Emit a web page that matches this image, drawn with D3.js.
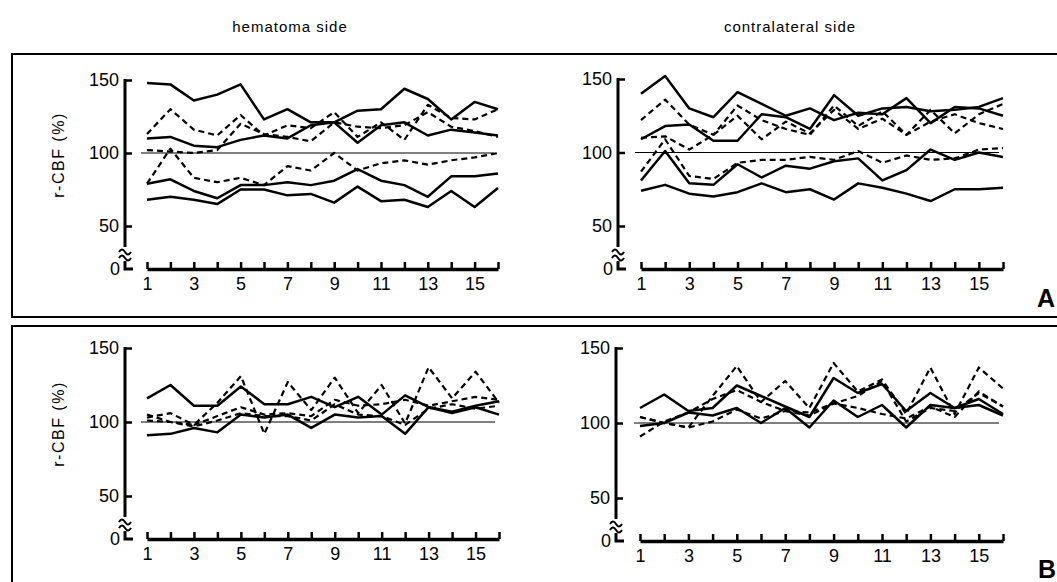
<!DOCTYPE html>
<html>
<head>
<meta charset="utf-8">
<script src="https://cdn.jsdelivr.net/npm/d3@7"></script>
<style>
	html, body { margin: 0; padding: 0; background: #fff; }
	svg { display: block; }
</style>
</head>
<body>
<div class="chart"></div>
<script>
// Measurement number (x) and the y ticks shown on every panel.
var sessions = d3.range(1, 17);
var xLabelValues = [1, 3, 5, 7, 9, 11, 13, 15];
var yTickValues = [50, 100, 150];

// A, hematoma side (r-CBF %)
var aHemSolid1 = [148, 147, 136, 140, 147, 123, 130, 121, 121, 129, 130, 144, 137, 123, 135, 130];
var aHemSolid2 = [110, 111, 105, 104, 109, 112, 110, 119, 121, 107, 119, 121, 112, 116, 114, 112];
var aHemSolid3 = [79, 82, 74, 69, 78, 78, 80, 78, 81, 89, 81, 78, 70, 84, 84, 86];
var aHemSolid4 = [68, 70, 68, 65, 75, 75, 71, 72, 66, 77, 67, 68, 63, 74, 63, 76];
var aHemDash1 = [113, 130, 116, 112, 126, 112, 119, 117, 128, 111, 121, 109, 133, 124, 123, 130];
var aHemDash2 = [102, 101, 100, 102, 120, 113, 111, 108, 121, 118, 117, 119, 128, 118, 115, 111];
var aHemDash3 = [79, 103, 83, 80, 83, 78, 91, 88, 100, 88, 93, 95, 92, 95, 97, 100];

// A, contralateral side
var aConSolid1 = [140, 152, 130, 124, 141, 133, 125, 130, 122, 127, 126, 137, 120, 131, 130, 125];
var aConSolid2 = [109, 118, 119, 108, 108, 126, 124, 116, 139, 125, 130, 131, 128, 129, 131, 137];
var aConSolid3 = [81, 101, 79, 78, 92, 83, 91, 89, 94, 96, 81, 88, 102, 95, 100, 97];
var aConSolid4 = [74, 78, 72, 70, 73, 79, 73, 75, 68, 79, 76, 72, 67, 75, 75, 76];
var aConDash1 = [122, 136, 119, 112, 132, 122, 116, 112, 132, 118, 128, 112, 129, 113, 126, 133];
var aConDash2 = [110, 111, 102, 112, 125, 109, 121, 113, 129, 116, 123, 112, 121, 126, 120, 116];
var aConDash3 = [87, 109, 84, 82, 93, 95, 95, 97, 95, 101, 93, 98, 95, 96, 102, 103];

// B, hematoma side
var bHemSolid1 = [116, 125, 111, 111, 124, 112, 112, 117, 110, 117, 105, 118, 110, 106, 110, 105];
var bHemSolid2 = [91, 92, 96, 93, 105, 103, 105, 96, 105, 103, 104, 92, 110, 107, 111, 114];
var bHemDash1 = [105, 100, 98, 113, 131, 92, 127, 108, 130, 106, 125, 99, 137, 116, 134, 113];
var bHemDash2 = [103, 106, 98, 104, 110, 105, 106, 104, 115, 111, 112, 115, 111, 114, 117, 115];
var bHemDash3 = [101, 100, 97, 101, 106, 104, 104, 101, 112, 105, 104, 98, 109, 112, 109, 111];

// B, contralateral side
var bConSolid1 = [110, 119, 108, 110, 125, 118, 111, 104, 130, 120, 126, 108, 120, 110, 116, 106];
var bConSolid2 = [98, 100, 107, 105, 110, 100, 110, 97, 115, 104, 112, 97, 112, 110, 112, 105];
var bConDash1 = [104, 100, 97, 118, 138, 114, 128, 110, 140, 121, 129, 106, 137, 106, 137, 123];
var bConDash2 = [91, 101, 107, 116, 122, 114, 108, 105, 113, 118, 128, 101, 110, 108, 120, 111];
var bConDash3 = [104, 100, 97, 101, 109, 103, 108, 107, 113, 110, 106, 103, 111, 104, 121, 111];

// Where each of the four little charts sits on the page.
var panels = [
	{axisX: 125, x1: 147, x16: 498, y150: 80, y50: 226, base: 269, yLabel: true,
		solid: [aHemSolid1, aHemSolid2, aHemSolid3, aHemSolid4], dashed: [aHemDash1, aHemDash2, aHemDash3]},
	{axisX: 618, x1: 641, x16: 1003, y150: 79, y50: 226, base: 269, yLabel: false,
		solid: [aConSolid1, aConSolid2, aConSolid3, aConSolid4], dashed: [aConDash1, aConDash2, aConDash3]},
	{axisX: 125, x1: 147, x16: 499, y150: 348, y50: 496, base: 539, yLabel: true,
		solid: [bHemSolid1, bHemSolid2], dashed: [bHemDash1, bHemDash2, bHemDash3]},
	{axisX: 616, x1: 640, x16: 1003, y150: 348, y50: 498, base: 541, yLabel: false,
		solid: [bConSolid1, bConSolid2], dashed: [bConDash1, bConDash2, bConDash3]}
];

var width = 1057,
	height = 582,
	fontFamily = '"Liberation Sans", Arial, Helvetica, sans-serif';

var svg = d3.select('.chart').append('svg')
	.attr('width', width)
	.attr('height', height)
	.attr('font-family', fontFamily)
	.attr('fill', '#000');

// Column titles.
svg.append('text').attr('x', 290).attr('y', 32).attr('text-anchor', 'middle')
	.attr('font-size', '15px').attr('letter-spacing', '1px').text('hematoma side');
svg.append('text').attr('x', 790).attr('y', 32).attr('text-anchor', 'middle')
	.attr('font-size', '15px').attr('letter-spacing', '1px').text('contralateral side');

// The two frames, open on the right like in the scan.
svg.append('path')
	.attr('d', 'M' + (width + 5) + ',54H12V317H' + (width + 5))
	.attr('fill', 'none').attr('stroke', '#000').attr('stroke-width', 2);
svg.append('path')
	.attr('d', 'M' + (width + 5) + ',326H12V' + (height + 5))
	.attr('fill', 'none').attr('stroke', '#000').attr('stroke-width', 2);

svg.append('text').attr('x', 1037).attr('y', 307).attr('font-size', '25px')
	.attr('font-weight', 'bold').text('A');
svg.append('text').attr('x', 1038).attr('y', 578).attr('font-size', '25px')
	.attr('font-weight', 'bold').text('B');

panels.forEach(function(p) {
	var x = d3.scaleLinear().domain([1, 16]).range([p.x1, p.x16]);
	var y = d3.scaleLinear().domain([50, 150]).range([p.y50, p.y150]);
	var g = svg.append('g');

	// thin reference line at 100 %
	g.append('line')
		.attr('x1', x(1) - 6)
		.attr('x2', x(16) - 4)
		.attr('y1', y(100))
		.attr('y2', y(100))
		.attr('stroke', '#000')
		.attr('stroke-width', 1);

	var line = d3.line()
		.x(function(d, i) { return x(sessions[i]); })
		.y(function(d) { return y(d); });

	p.dashed.forEach(function(values) {
		g.append('path')
			.datum(values)
			.attr('d', line)
			.attr('fill', 'none')
			.attr('stroke', '#000')
			.attr('stroke-width', 2.2)
			.attr('stroke-dasharray', '6,4')
			.attr('stroke-linejoin', 'round');
	});
	p.solid.forEach(function(values) {
		g.append('path')
			.datum(values)
			.attr('d', line)
			.attr('fill', 'none')
			.attr('stroke', '#000')
			.attr('stroke-width', 2.5)
			.attr('stroke-linejoin', 'round');
	});

	// y axis: ticks to the right, labels to the left, domain drawn by hand because of the break
	var yAxis = g.append('g')
		.attr('transform', 'translate(' + p.axisX + ',0)')
		.call(d3.axisLeft(y).tickValues(yTickValues).tickSize(-7).tickPadding(6));
	yAxis.select('.domain').remove();
	yAxis.selectAll('line').attr('stroke-width', 2.5);
	yAxis.selectAll('text').attr('font-size', '18px').attr('font-family', fontFamily);

	var breakTop = p.base - 22;
	g.append('line')
		.attr('x1', p.axisX).attr('x2', p.axisX)
		.attr('y1', y(150) - 1).attr('y2', breakTop)
		.attr('stroke', '#000').attr('stroke-width', 3);
	// the two wavy break marks
	[breakTop + 4, breakTop + 10].forEach(function(yy) {
		g.append('path')
			.attr('d', 'M' + (p.axisX - 6) + ',' + (yy + 1) + 'q3,-5 6,0t6,0')
			.attr('fill', 'none').attr('stroke', '#000').attr('stroke-width', 2);
	});
	g.append('path')
		.attr('d', 'M' + p.axisX + ',' + (p.base - 8) + 'V' + p.base + 'H' + (p.axisX + 8))
		.attr('fill', 'none').attr('stroke', '#000').attr('stroke-width', 3);
	g.append('text')
		.attr('x', p.axisX - 5).attr('y', p.base + 6)
		.attr('text-anchor', 'end').attr('font-size', '18px')
		.text('0');

	// x axis with up ticks, labels on odd measurements
	var xAxis = g.append('g')
		.attr('transform', 'translate(0,' + p.base + ')')
		.call(d3.axisBottom(x).tickValues(sessions).tickSize(-7).tickSizeOuter(0).tickPadding(8)
			.tickFormat(function(d) { return xLabelValues.indexOf(d) >= 0 ? d : ''; }));
	xAxis.select('.domain').attr('stroke-width', 3.5);
	xAxis.selectAll('line').attr('stroke-width', 2.5);
	xAxis.selectAll('text').attr('font-size', '18px').attr('font-family', fontFamily);

	if (p.yLabel) {
		g.append('text')
			.attr('transform', 'translate(64,' + ((p.y150 + p.y50) / 2 + 2) + ') rotate(-90)')
			.attr('text-anchor', 'middle')
			.attr('font-size', '16px')
			.attr('letter-spacing', '1.5px')
			.text('r-CBF (%)');
	}
});
</script>
</body>
</html>
